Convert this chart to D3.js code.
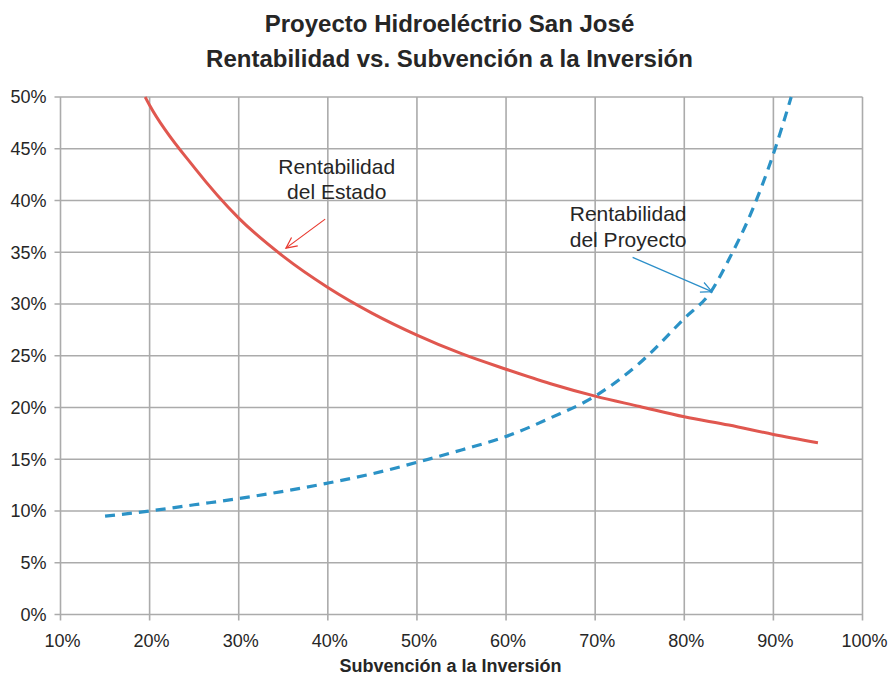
<!DOCTYPE html>
<html><head><meta charset="utf-8">
<script src="https://cdn.jsdelivr.net/npm/d3@7"></script>
<style>body{margin:0;background:#fff}svg{display:block;font-family:"Liberation Sans",Arial,sans-serif}</style>
</head><body>
<script>
const xTicks = [10,20,30,40,50,60,70,80,90,100];
const yTicks = [0,5,10,15,20,25,30,35,40,45,50];
const estadoX = [19.5,20,25,30,35,40,45,50,55,60,65,70,75,80,85,90,95];
const estadoY = [50,49.2,43.2,38.3,34.6,31.6,29.1,27.0,25.2,23.7,22.3,21.1,20.1,19.1,18.3,17.4,16.6];
const proyectoX = [15,20,25,30,35,40,45,50,55,60,65,70,75,80,83,85,87.5,90,92];
const proyectoY = [9.5,10.0,10.6,11.2,11.9,12.7,13.6,14.7,15.9,17.2,19.0,21.1,24.3,28.6,31.2,34.3,38.8,44.5,50];
const title1 = "Proyecto Hidroeléctrio San José";
const title2 = "Rentabilidad vs. Subvención a la Inversión";
const xTitle = "Subvención a la Inversión";

const W = 891, H = 677;
const m = {left:60.5, right:862.5, top:97, bottom:614.5};
const svg = d3.select("body").append("svg").attr("width",W).attr("height",H);
const x = d3.scaleLinear().domain([10,100]).range([m.left,m.right]);
const y = d3.scaleLinear().domain([0,50]).range([m.bottom,m.top]);
const grid = "#ABABAB", txt = "#262626";

// grid
svg.append("g").selectAll("line").data(yTicks).join("line")
  .attr("x1",m.left-6).attr("x2",m.right).attr("y1",d=>y(d)).attr("y2",d=>y(d))
  .attr("stroke",grid).attr("stroke-width",1.6);
svg.append("g").selectAll("line").data(xTicks).join("line")
  .attr("x1",d=>x(d)).attr("x2",d=>x(d)).attr("y1",m.top).attr("y2",m.bottom+6)
  .attr("stroke",grid).attr("stroke-width",1.6);

// tick labels
svg.append("g").selectAll("text").data(yTicks).join("text")
  .attr("x",46.5).attr("y",d=>y(d)).attr("dy","0.35em").attr("text-anchor","end")
  .attr("font-size",18).attr("fill",txt).text(d=>d+"%");
svg.append("g").selectAll("text").data(xTicks).join("text")
  .attr("x",d=>x(d)+2).attr("y",647).attr("text-anchor","middle")
  .attr("font-size",18).attr("fill",txt).text(d=>d+"%");

// titles
svg.append("text").attr("x",449.5).attr("y",32).attr("text-anchor","middle")
  .attr("font-size",24).attr("font-weight","bold").attr("fill",txt).text(title1);
svg.append("text").attr("x",449.5).attr("y",67).attr("text-anchor","middle")
  .attr("font-size",24).attr("font-weight","bold").attr("fill",txt).text(title2);
svg.append("text").attr("x",450.5).attr("y",672).attr("text-anchor","middle")
  .attr("font-size",18).attr("font-weight","bold").attr("fill",txt).text(xTitle);

// lines
const line = d3.line().x(d=>x(d[0])).y(d=>y(d[1])).curve(d3.curveMonotoneX);
svg.append("path").datum(d3.zip(estadoX,estadoY)).attr("d",line)
  .attr("fill","none").attr("stroke","#E0574F").attr("stroke-width",3);
svg.append("path").datum(d3.zip(proyectoX,proyectoY)).attr("d",line)
  .attr("fill","none").attr("stroke","#2B92C6").attr("stroke-width",3.2)
  .attr("stroke-dasharray","10,7");

// annotations
function label(cx, by, lines){
  const t = svg.append("text").attr("text-anchor","middle").attr("font-size",21).attr("fill",txt);
  lines.forEach((s,i)=>t.append("tspan").attr("x",x(cx)).attr("y",y(by)+i*25.5).text(s));
}
function arrow(x0,y0,x1,y1,col){
  const X0=x(x0),Y0=y(y0),X1=x(x1),Y1=y(y1);
  svg.append("line").attr("x1",X0).attr("y1",Y0).attr("x2",X1).attr("y2",Y1).attr("stroke",col).attr("stroke-width",1.2);
  const a=Math.atan2(Y1-Y0,X1-X0), L=12, s=0.45;
  const p=[[X1-L*Math.cos(a-s),Y1-L*Math.sin(a-s)],[X1,Y1],[X1-L*Math.cos(a+s),Y1-L*Math.sin(a+s)]];
  svg.append("path").attr("d",d3.line()(p)).attr("fill","none").attr("stroke",col).attr("stroke-width",1.2);
}
label(41.0, 42.6, ["Rentabilidad","del Estado"]);
arrow(39.7,38.2,35.3,35.4,"#E8382E");
label(73.7, 38.0, ["Rentabilidad","del Proyecto"]);
arrow(74.2,34.5,83.1,31.2,"#2C8FC9");
</script>
</body></html>
